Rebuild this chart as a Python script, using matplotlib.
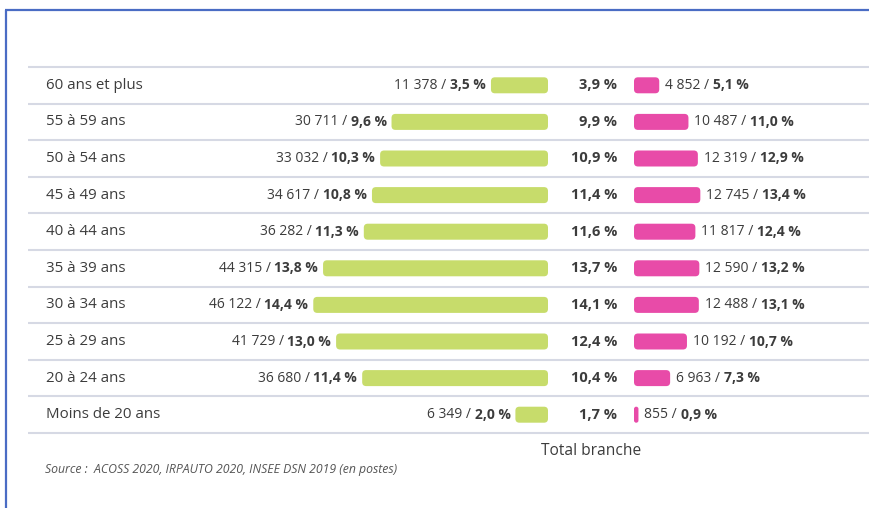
import matplotlib
matplotlib.use('Agg')
import matplotlib.pyplot as plt
from matplotlib.patches import FancyBboxPatch

plt.rcParams['font.family'] = ['Open Sans', 'DejaVu Sans']

# Data
ages = ["60 ans et plus", "55 à 59 ans", "50 à 54 ans", "45 à 49 ans", "40 à 44 ans",
        "35 à 39 ans", "30 à 34 ans", "25 à 29 ans", "20 à 24 ans", "Moins de 20 ans"]
green_n = [11378, 30711, 33032, 34617, 36282, 44315, 46122, 41729, 36680, 6349]
green_pct = [3.5, 9.6, 10.3, 10.8, 11.3, 13.8, 14.4, 13.0, 11.4, 2.0]
total_pct = [3.9, 9.9, 10.9, 11.4, 11.6, 13.7, 14.1, 12.4, 10.4, 1.7]
pink_n = [4852, 10487, 12319, 12745, 11817, 12590, 12488, 10192, 6963, 855]
pink_pct = [5.1, 11.0, 12.9, 13.4, 12.4, 13.2, 13.1, 10.7, 7.3, 0.9]

GREEN = '#c7dc6b'
PINK = '#e84ba8'
TXT = '#3c3c3c'
LINE = '#d6d9e4'


def fr_num(n):
    return f"{n:,}".replace(',', ' ')


def fr_pct(p):
    return f"{p:.1f}".replace('.', ',') + ' %'


fig = plt.figure(figsize=(8.7, 5.08), dpi=100)
ax = fig.add_axes([0, 0, 1, 1])
ax.set_xlim(0, 870)
ax.set_ylim(508, 0)
ax.axis('off')

# layout (pixel-like units)
top, step = 67, 36.6
g_end, g_scale = 548, 16.3
p_start, p_scale = 634, 4.95
bar_h = 16

# frame
ax.plot([5, 870], [10, 10], color='#4a6cc4', lw=1.6, solid_capstyle='butt')
ax.plot([6.5, 6.5], [10, 508], color='#4a6cc4', lw=1.6, solid_capstyle='butt')

for i in range(len(ages) + 1):
    y = top + i * step
    ax.plot([28, 870], [y, y], color=LINE, lw=1.5, solid_capstyle='butt')

for i, age in enumerate(ages):
    yc = top + (i + 0.5) * step
    ax.text(46, yc, age, ha='left', va='center', fontsize=10.8, color=TXT)

    # green bar (right-anchored)
    gw = green_pct[i] * g_scale
    ax.add_patch(FancyBboxPatch((g_end - gw, yc - bar_h / 2), gw, bar_h,
                                boxstyle=f"round,pad=0,rounding_size={min(4, gw / 2)}",
                                fc=GREEN, ec='none'))
    b = ax.text(g_end - gw - 5, yc, fr_pct(green_pct[i]), ha='right', va='center',
                fontsize=10, fontweight='bold', color=TXT)
    ax.annotate(fr_num(green_n[i]) + ' / ', xy=(0, 0.5), xycoords=b,
                ha='right', va='center', fontsize=10, color=TXT)

    # total
    ax.text(617, yc, fr_pct(total_pct[i]), ha='right', va='center',
            fontsize=10.5, fontweight='bold', color=TXT)

    # pink bar (left-anchored)
    pw = pink_pct[i] * p_scale
    ax.add_patch(FancyBboxPatch((p_start, yc - bar_h / 2), pw, bar_h,
                                boxstyle=f"round,pad=0,rounding_size={min(4, pw / 2)}",
                                fc=PINK, ec='none'))
    t = ax.text(p_start + pw + 6, yc, fr_num(pink_n[i]) + ' / ', ha='left', va='center',
                fontsize=10, color=TXT)
    ax.annotate(fr_pct(pink_pct[i]), xy=(1, 0.5), xycoords=t,
                ha='left', va='center', fontsize=10, fontweight='bold', color=TXT)

ax.text(591, 451, 'Total branche', ha='center', va='center', fontsize=11.2, color=TXT)
ax.text(45, 469, 'Source :  ACOSS 2020, IRPAUTO 2020, INSEE DSN 2019 (en postes)',
        ha='left', va='center', fontsize=8.8, fontstyle='italic', color='#555555')

fig.savefig('out.png', dpi=100)
